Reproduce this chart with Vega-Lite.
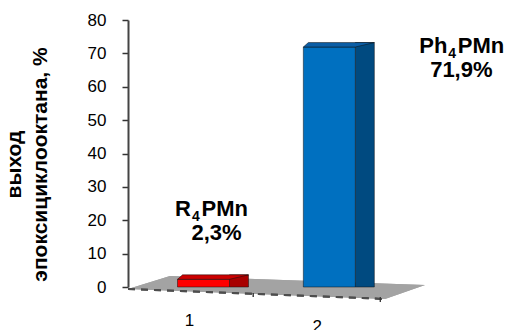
{
  "$schema": "https://vega.github.io/schema/vega-lite/v6.json",
  "autosize": {"type": "none"},
  "width": 302,
  "height": 267,
  "padding": {"left": 128, "top": 20, "right": 76, "bottom": 43},
  "background": "white",
  "config": {
    "view": {"stroke": null},
    "font": "Liberation Sans"
  },
  "data": {
    "values": [
      {"n": 1, "catalyst": "R4PMn", "value": 2.3, "prefix": "R", "sub": "4", "suffix": "PMn", "pct": "2,3%"},
      {"n": 2, "catalyst": "Ph4PMn", "value": 71.9, "prefix": "Ph", "sub": "4", "suffix": "PMn", "pct": "71,9%"}
    ]
  },
  "encoding": {
    "x": {"field": "n", "type": "quantitative", "scale": {"domain": [0.4, 2.8], "nice": false, "zero": false}, "axis": null},
    "y": {
      "field": "value", "type": "quantitative",
      "scale": {"domain": [0, 80], "nice": false},
      "axis": {
        "values": [0, 10, 20, 30, 40, 50, 60, 70, 80],
        "grid": false,
        "domainColor": "#444444", "domainWidth": 2,
        "tickColor": "#333333", "tickWidth": 1.5, "tickSize": 6,
        "labelFont": "Liberation Sans", "labelFontSize": 17, "labelColor": "#000000", "labelPadding": 16,
        "title": ["выход", "эпоксициклооктана, %"],
        "titleFont": "Liberation Sans", "titleFontSize": 21, "titleFontWeight": "bold", "titleColor": "#000000",
        "titleLineHeight": 26, "titleAngle": -90, "titleAlign": "center", "titleBaseline": "alphabetic",
        "titleX": -108, "titleY": 144
      }
    }
  },
  "layer": [
    {
      "mark": {"type": "point", "filled": true, "shape": "M0,0.02 L2.57,0.12 L2.97,-0.02 L0.42,-0.11 Z", "size": 40000, "fill": "#a3a3a3", "opacity": 1, "strokeWidth": 0},
      "encoding": {"x": {"datum": 0.4}, "y": {"datum": 0}}
    },
    {
      "mark": {"type": "point", "filled": false, "shape": "M0,0.02 L2.57,0.12", "size": 40000, "stroke": "#4d4d4d", "strokeWidth": 2, "strokeDash": [7, 6], "opacity": 1},
      "encoding": {"x": {"datum": 0.4}, "y": {"datum": 0}}
    },
    {
      "mark": {"type": "rule", "color": "#333333", "strokeWidth": 1},
      "encoding": {"x": {"datum": 1.395}, "y": {"datum": -1.8}, "y2": {"datum": -3.0}}
    },
    {
      "mark": {"type": "rule", "color": "#333333", "strokeWidth": 1},
      "encoding": {"x": {"datum": 2.405}, "y": {"datum": -3.0}, "y2": {"datum": -4.5}}
    },
    {
      "mark": {"type": "rect", "xOffset": 26, "x2Offset": 45, "yOffset": -4.5, "stroke": "#111111", "strokeWidth": 0.5},
      "encoding": {
        "x2": {"field": "n"},
        "y2": {"datum": 0},
        "fill": {"field": "catalyst", "type": "nominal", "scale": {"domain": ["R4PMn", "Ph4PMn"], "range": ["#a80000", "#004a80"]}, "legend": null}
      }
    },
    {
      "mark": {"type": "rect", "xOffset": -26, "x2Offset": 26, "stroke": "#111111", "strokeWidth": 0.5},
      "encoding": {
        "x2": {"field": "n"},
        "y2": {"datum": 0},
        "fill": {"field": "catalyst", "type": "nominal", "scale": {"domain": ["R4PMn", "Ph4PMn"], "range": ["#ff0000", "#0070c0"]}, "legend": null}
      }
    },
    {
      "mark": {"type": "point", "filled": true, "shape": "M-0.52,0 L0.52,0 L0.9,-0.09 L-0.42,-0.09 Z", "size": 10000, "opacity": 1, "stroke": "#111111", "strokeWidth": 0.5},
      "encoding": {
        "fill": {"field": "catalyst", "type": "nominal", "scale": {"domain": ["R4PMn", "Ph4PMn"], "range": ["#cc0000", "#0b5ea6"]}, "legend": null}
      }
    },
    {
      "transform": [{"filter": "datum.n == 1"}],
      "layer": [
        {
          "mark": {"type": "text", "align": "right", "baseline": "alphabetic", "dx": -12.5, "dy": -63, "fontSize": 22, "fontWeight": "bold", "color": "#000000"},
          "encoding": {"text": {"field": "prefix"}}
        },
        {
          "mark": {"type": "text", "align": "left", "baseline": "alphabetic", "dx": -11.5, "dy": -58.5, "fontSize": 14, "fontWeight": "bold", "color": "#000000"},
          "encoding": {"text": {"field": "sub"}}
        },
        {
          "mark": {"type": "text", "align": "left", "baseline": "alphabetic", "dx": -2, "dy": -63, "fontSize": 22, "fontWeight": "bold", "color": "#000000"},
          "encoding": {"text": {"field": "suffix"}}
        },
        {
          "mark": {"type": "text", "align": "center", "baseline": "alphabetic", "dx": 13, "dy": -39, "fontSize": 22, "fontWeight": "bold", "color": "#000000"},
          "encoding": {"text": {"field": "pct"}}
        }
      ]
    },
    {
      "transform": [{"filter": "datum.n == 2"}],
      "layer": [
        {
          "mark": {"type": "text", "align": "right", "baseline": "alphabetic", "dx": 118, "dy": 6, "fontSize": 22, "fontWeight": "bold", "color": "#000000"},
          "encoding": {"text": {"field": "prefix"}}
        },
        {
          "mark": {"type": "text", "align": "left", "baseline": "alphabetic", "dx": 119, "dy": 10.5, "fontSize": 14, "fontWeight": "bold", "color": "#000000"},
          "encoding": {"text": {"field": "sub"}}
        },
        {
          "mark": {"type": "text", "align": "left", "baseline": "alphabetic", "dx": 128.5, "dy": 6, "fontSize": 22, "fontWeight": "bold", "color": "#000000"},
          "encoding": {"text": {"field": "suffix"}}
        },
        {
          "mark": {"type": "text", "align": "center", "baseline": "alphabetic", "dx": 132, "dy": 30, "fontSize": 22, "fontWeight": "bold", "color": "#000000"},
          "encoding": {"text": {"field": "pct"}}
        }
      ]
    },
    {
      "transform": [{"filter": "datum.n == 1"}],
      "mark": {"type": "text", "align": "center", "baseline": "alphabetic", "dx": -14, "dy": 39, "fontSize": 17, "color": "#000000"},
      "encoding": {"y": {"datum": 0}, "text": {"field": "n", "type": "nominal"}}
    },
    {
      "transform": [{"filter": "datum.n == 2"}],
      "mark": {"type": "text", "align": "center", "baseline": "alphabetic", "dx": -12, "dy": 45, "fontSize": 17, "color": "#000000"},
      "encoding": {"y": {"datum": 0}, "text": {"field": "n", "type": "nominal"}}
    }
  ],
  "resolve": {"scale": {"fill": "independent"}}
}
